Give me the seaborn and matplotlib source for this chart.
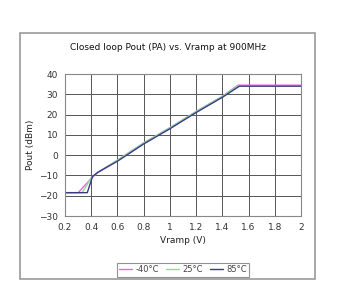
import numpy as np
import pandas as pd
import matplotlib
matplotlib.use("Agg")
import matplotlib.pyplot as plt
import seaborn as sns
from matplotlib.patches import Rectangle

series_names = ["-40°C", "25°C", "85°C"]
x_m40 = [0.2, 0.3, 0.35, 0.4, 0.45, 0.6, 0.8, 1.0, 1.2, 1.4, 1.52, 2.0]
y_m40 = [-18.5, -18.5, -15.0, -11.5, -8.5, -2.5, 6.0, 13.5, 21.5, 29.0, 34.5, 34.5]
x_25 = [0.2, 0.33, 0.36, 0.4, 0.45, 0.6, 0.8, 1.0, 1.2, 1.4, 1.52, 2.0]
y_25 = [-18.5, -18.5, -15.5, -11.0, -8.5, -2.5, 6.0, 13.5, 21.5, 29.0, 34.2, 34.2]
x_85 = [0.2, 0.37, 0.41, 0.45, 0.6, 0.8, 1.0, 1.2, 1.4, 1.53, 2.0]
y_85 = [-18.5, -18.5, -10.5, -8.5, -3.0, 5.5, 13.0, 21.0, 28.5, 34.0, 34.0]
colors = ["#e466e0", "#88dd99", "#3a3a88"]
x_ticks = [0.2, 0.4, 0.6, 0.8, 1.0, 1.2, 1.4, 1.6, 1.8, 2.0]
x_tick_labels = ["0.2", "0.4", "0.6", "0.8", "1", "1.2", "1.4", "1.6", "1.8", "2"]
y_ticks = [-30, -20, -10, 0, 10, 20, 30, 40]

frames = []
for name, xs, ys in zip(series_names, [x_m40, x_25, x_85], [y_m40, y_25, y_85]):
    frames.append(pd.DataFrame({"Vramp": xs, "Pout": ys, "Temp": name}))
df = pd.concat(frames, ignore_index=True)

sns.set_style("white")
plt.rcParams["font.family"] = ["DejaVu Sans"]

fig = plt.figure(figsize=(3.37, 2.89), dpi=100)
fig.patches.append(Rectangle((20/337, 1-279/289), (315-20)/337, (279-33)/289,
                             transform=fig.transFigure, fill=False,
                             edgecolor="#999999", linewidth=1.2))
ax = fig.add_axes([65/337, 1-216/289, (301-65)/337, (216-74)/289])

sns.lineplot(data=df, x="Vramp", y="Pout", hue="Temp", palette=colors,
             hue_order=series_names, ax=ax, linewidth=1.0, sort=False,
             estimator=None)

ax.set_xlim(0.2, 2.0)
ax.set_ylim(-30, 40)
ax.set_xticks(x_ticks)
ax.set_xticklabels(x_tick_labels)
ax.set_yticks(y_ticks)
ax.grid(True, color="#555555", linewidth=0.7)
ax.set_axisbelow(True)
for s in ax.spines.values():
    s.set_color("#888888")
    s.set_linewidth(0.8)
ax.tick_params(axis="both", labelsize=6.5, colors="#555555", length=2, pad=3)
ax.tick_params(axis="both", labelcolor="#333333")
ax.set_xlabel("Vramp (V)", fontsize=6.5, color="#222222", labelpad=3)
ax.set_ylabel("Pout (dBm)", fontsize=6.5, color="#222222", labelpad=3)
fig.text(168/337, 1-48/289, "Closed loop Pout (PA) vs. Vramp at 900MHz",
         ha="center", va="center", fontsize=6.5, color="#111111")

ax.legend_.remove()
handles, labels = ax.get_legend_handles_labels()
leg = fig.legend(handles, labels, loc="center", bbox_to_anchor=(183/337, 1-269.5/289),
                 ncol=3, fontsize=6, frameon=True, fancybox=False,
                 edgecolor="#777777", handlelength=1.6, handletextpad=0.4,
                 columnspacing=0.8, borderpad=0.3, labelcolor="#444444")
leg.get_frame().set_linewidth(0.8)

fig.savefig("out.png", dpi=100)
